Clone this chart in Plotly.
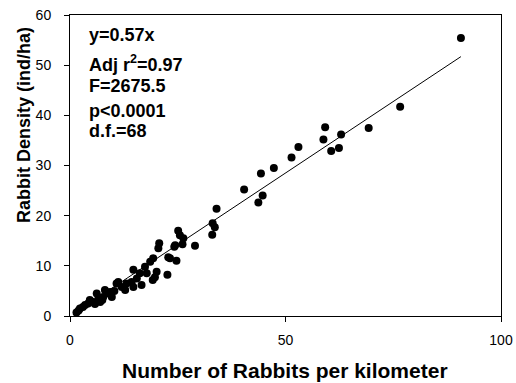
import plotly.graph_objects as go

# Rabbits counted per kilometre of transect vs. estimated density (ind/ha)
rabbits_per_km = [
    90.7, 76.6, 69.3, 62.9, 62.4, 60.6, 59.2, 58.8, 53.0, 51.4,
    47.3, 44.3, 44.7, 43.7, 40.4, 34.0, 33.1, 33.6, 33.0, 29.0,
    25.1, 25.5, 26.1, 24.2, 20.7, 20.5, 23.2, 24.7, 22.6, 19.3,
    18.6, 17.4, 17.8, 20.1, 19.7, 14.7, 16.2, 15.5, 14.7, 14.3,
    13.1, 12.8, 12.0, 11.2, 10.8, 9.7, 9.3, 8.5, 8.1, 7.7,
    7.5, 6.6, 6.2, 5.4, 4.6, 4.2, 3.5, 2.3, 1.5, 16.6,
    19.2, 24.4, 22.8, 2.0, 3.0, 5.8, 10.3, 26.3, 7.0,
]
density_ind_ha = [
    55.4, 41.7, 37.5, 36.2, 33.5, 32.9, 37.6, 35.2, 33.7, 31.6,
    29.5, 28.4, 24.0, 22.6, 25.2, 21.4, 18.5, 17.7, 16.2, 14.0,
    17.0, 16.1, 14.3, 13.8, 14.5, 13.5, 11.5, 11.0, 8.2, 11.5,
    10.8, 9.8, 8.5, 8.8, 7.7, 9.2, 8.5, 7.5, 5.8, 6.8,
    6.5, 5.2, 5.8, 6.8, 6.5, 3.8, 4.8, 4.5, 5.2, 3.8,
    3.2, 3.5, 4.5, 2.8, 3.2, 2.5, 2.2, 1.5, 0.7, 6.2,
    7.2, 14.1, 11.7, 1.1, 1.8, 2.4, 5.0, 15.5, 2.8,
]

# Regression through the origin
slope = 0.57
fit_x = [1.5, 90.7]
fit_y = [slope * v for v in fit_x]

stats_lines = [
    "y=0.57x",
    "Adj r<sup>2</sup>=0.97",
    "F=2675.5",
    "p<0.0001",
    "d.f.=68",
]
stats_y_px = [35, 63, 86, 111, 131]

x_ticks = [0, 50, 100]
y_ticks = [0, 10, 20, 30, 40, 50, 60]

FONT = "Liberation Sans, Arial, Helvetica, sans-serif"

fig = go.Figure()
fig.add_trace(go.Scatter(
    x=fit_x, y=fit_y, mode="lines",
    line=dict(color="black", width=1), hoverinfo="skip", showlegend=False,
))
fig.add_trace(go.Scatter(
    x=rabbits_per_km, y=density_ind_ha, mode="markers",
    marker=dict(color="black", size=8, line=dict(width=0)),
    showlegend=False,
))

# plot area in pixels: left 70, right 501, top 15, bottom 316
W, H = 516, 383
L, R, T, B = 70, 15, 15, 67
plot_w = W - L - R
plot_h = H - T - B

def paper_x(px):
    return (px - L) / plot_w

def paper_y(py):
    return (H - B - py) / plot_h

for txt, py in zip(stats_lines, stats_y_px):
    fig.add_annotation(
        text=f"<b>{txt}</b>", xref="paper", yref="paper",
        x=paper_x(87), y=paper_y(py),
        xanchor="left", yanchor="middle", showarrow=False,
        font=dict(family=FONT, size=18, color="black"),
    )

# axis titles
fig.add_annotation(
    text="<b>Number of Rabbits per kilometer</b>", xref="paper", yref="paper",
    x=paper_x(285), y=paper_y(370), xanchor="center", yanchor="middle",
    showarrow=False, font=dict(family=FONT, size=21, color="black"),
)
fig.add_annotation(
    text="<b>Rabbit Density (ind/ha)</b>", xref="paper", yref="paper",
    x=paper_x(24), y=paper_y(125), xanchor="center", yanchor="middle",
    textangle=-90, showarrow=False,
    font=dict(family=FONT, size=18, color="black"),
)

axis_common = dict(
    showgrid=False, zeroline=False, showline=True, linecolor="black",
    linewidth=1, mirror=True, ticks="outside", ticklen=5, tickwidth=1,
    tickcolor="black", tickfont=dict(family=FONT, size=14, color="black"),
    automargin=False,
)
fig.update_xaxes(range=[0, 100], tickvals=x_ticks, ticklabelstandoff=6,
                 **axis_common)
fig.update_yaxes(range=[0, 60], tickvals=y_ticks, ticklabelstandoff=10,
                 **axis_common)

fig.update_layout(
    width=W, height=H,
    margin=dict(l=L, r=R, t=T, b=B, autoexpand=False),
    paper_bgcolor="white", plot_bgcolor="white",
    font=dict(family=FONT, color="black"),
)

fig.write_html("out.html")
